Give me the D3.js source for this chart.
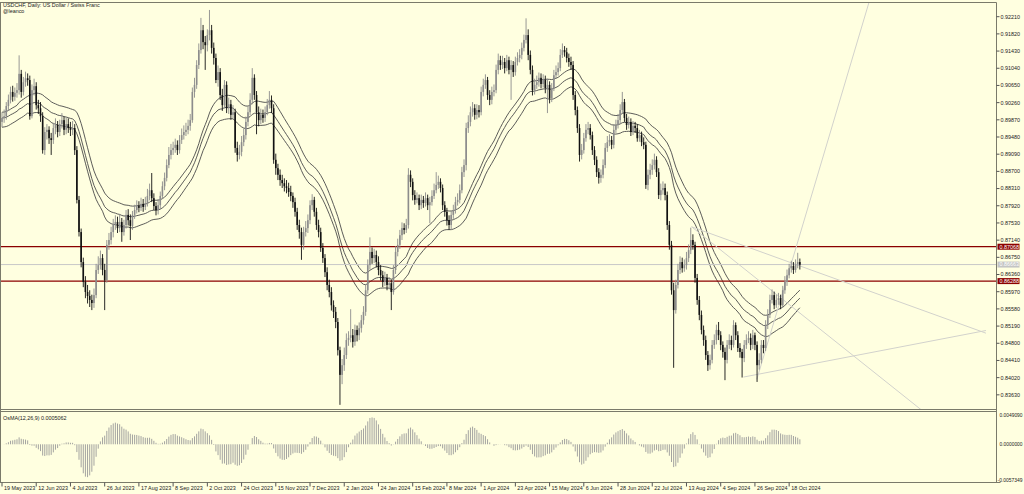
<!DOCTYPE html>
<html><head><meta charset="utf-8">
<script src="https://cdn.jsdelivr.net/npm/d3@7"></script>
<style>html,body{margin:0;padding:0;background:#ffffe0;}svg{display:block;}</style>
</head><body><svg id="c" width="1024" height="494"></svg>
<script>
const closes = [0.8999,0.9003,0.9026,0.9040,0.9058,0.9047,0.9056,0.9062,0.9099,0.9058,0.9080,0.9089,0.9085,0.9003,0.9062,0.9071,
0.9028,0.9021,0.9003,0.8926,0.8967,0.8972,0.8953,0.8949,0.8976,0.8983,0.8967,0.8985,0.8994,0.8972,0.8985,0.8976,
0.8972,0.8976,0.8926,0.8813,0.8740,0.8672,0.8627,0.8604,0.8595,0.8586,0.8579,0.8597,0.8654,0.8665,0.8681,0.8654,
0.8631,0.8711,0.8722,0.8740,0.8756,0.8763,0.8749,0.8763,0.8740,0.8756,0.8779,0.8767,0.8754,0.8779,0.8790,0.8799,
0.8795,0.8804,0.8797,0.8806,0.8822,0.8835,0.8817,0.8799,0.8790,0.8801,0.8822,0.8844,0.8863,0.8892,0.8915,0.8926,
0.8931,0.8938,0.8926,0.8949,0.8960,0.8967,0.8972,0.8981,0.8994,0.9058,0.9074,0.9119,0.9153,0.9198,0.9171,0.9164,
0.9187,0.9198,0.9158,0.9135,0.9085,0.9103,0.9051,0.9028,0.9074,0.9021,0.9030,0.9006,0.9012,0.8931,0.8915,0.8922,
0.8944,0.8960,0.8990,0.9012,0.9040,0.9090,0.9051,0.9012,0.8994,0.9006,0.8999,0.9012,0.9028,0.9040,0.9021,0.8904,
0.8885,0.8870,0.8858,0.8851,0.8844,0.8840,0.8831,0.8822,0.8808,0.8786,0.8756,0.8740,0.8711,0.8740,0.8749,0.8767,
0.8801,0.8813,0.8786,0.8756,0.8740,0.8704,0.8681,0.8649,0.8620,0.8604,0.8574,0.8559,0.8536,0.8472,0.8416,0.8438,
0.8461,0.8495,0.8500,0.8506,0.8491,0.8518,0.8506,0.8522,0.8540,0.8559,0.8608,0.8665,0.8695,0.8681,0.8688,0.8672,
0.8654,0.8642,0.8627,0.8636,0.8620,0.8624,0.8604,0.8654,0.8695,0.8711,0.8733,0.8749,0.8745,0.8756,0.8870,0.8854,
0.8824,0.8813,0.8817,0.8801,0.8813,0.8806,0.8817,0.8801,0.8808,0.8822,0.8835,0.8847,0.8854,0.8840,0.8801,0.8786,
0.8767,0.8756,0.8779,0.8790,0.8808,0.8813,0.8835,0.8876,0.8892,0.8976,0.8990,0.9012,0.9021,0.9006,0.9017,0.9012,
0.9058,0.9074,0.9085,0.9051,0.9040,0.9058,0.9062,0.9108,0.9130,0.9119,0.9126,0.9112,0.9130,0.9108,0.9119,0.9103,
0.9126,0.9135,0.9142,0.9158,0.9176,0.9187,0.9142,0.9108,0.9062,0.9074,0.9080,0.9090,0.9076,0.9085,0.9067,0.9074,
0.9044,0.9067,0.9096,0.9103,0.9112,0.9142,0.9153,0.9148,0.9135,0.9126,0.9119,0.9051,0.9017,0.8976,0.8915,0.8926,
0.8953,0.8972,0.8976,0.8960,0.8926,0.8904,0.8876,0.8863,0.8870,0.8892,0.8931,0.8944,0.8949,0.8938,0.8972,0.8983,
0.8994,0.9017,0.9035,0.8999,0.8983,0.8990,0.8967,0.8981,0.8976,0.8953,0.8960,0.8944,0.8938,0.8847,0.8870,0.8881,
0.8892,0.8904,0.8876,0.8824,0.8835,0.8840,0.8824,0.8756,0.8711,0.8608,0.8563,0.8620,0.8654,0.8672,0.8658,0.8665,
0.8681,0.8699,0.8722,0.8711,0.8636,0.8586,0.8552,0.8518,0.8495,0.8461,0.8438,0.8450,0.8484,0.8495,0.8518,0.8506,
0.8484,0.8468,0.8450,0.8484,0.8495,0.8484,0.8529,0.8506,0.8477,0.8468,0.8454,0.8484,0.8495,0.8500,0.8484,0.8506,
0.8484,0.8438,0.8450,0.8484,0.8477,0.8529,0.8552,0.8586,0.8597,0.8574,0.8586,0.8590,0.8574,0.8608,0.8627,0.8642,
0.8658,0.8663,0.8654,0.8667,0.8672,0.8666];
const highs = [0.9012,0.9018,0.9035,0.9052,0.9070,0.9072,0.9068,0.9078,0.9141,0.9108,0.9092,0.9104,0.9100,0.9095,0.9075,0.9088,
0.9080,0.9040,0.9035,0.9012,0.8978,0.8985,0.8980,0.8965,0.8988,0.8998,0.8992,0.8995,0.9010,0.9002,0.9000,0.8998,
0.8990,0.8992,0.8985,0.8935,0.8822,0.8748,0.8682,0.8640,0.8620,0.8608,0.8598,0.8612,0.8668,0.8685,0.8698,0.8690,
0.8668,0.8722,0.8738,0.8752,0.8770,0.8778,0.8775,0.8780,0.8772,0.8768,0.8790,0.8792,0.8780,0.8788,0.8802,0.8812,
0.8810,0.8818,0.8815,0.8820,0.8838,0.8850,0.8874,0.8828,0.8808,0.8815,0.8832,0.8855,0.8875,0.8905,0.8933,0.8940,
0.8945,0.8952,0.8948,0.8960,0.8975,0.8982,0.8988,0.8995,0.9008,0.9068,0.9090,0.9130,0.9168,0.9226,0.9210,0.9185,
0.9200,0.9244,0.9210,0.9170,0.9145,0.9118,0.9112,0.9065,0.9085,0.9082,0.9045,0.9040,0.9028,0.9020,0.8945,0.8938,
0.8958,0.8975,0.9002,0.9025,0.9055,0.9112,0.9098,0.9060,0.9025,0.9020,0.9018,0.9025,0.9042,0.9060,0.9050,0.9030,
0.8918,0.8895,0.8882,0.8870,0.8862,0.8858,0.8852,0.8845,0.8830,0.8818,0.8795,0.8768,0.8750,0.8752,0.8765,0.8780,
0.8812,0.8826,0.8820,0.8795,0.8768,0.8750,0.8715,0.8690,0.8660,0.8632,0.8615,0.8585,0.8570,0.8545,0.8480,0.8452,
0.8478,0.8510,0.8515,0.8565,0.8520,0.8530,0.8528,0.8535,0.8552,0.8572,0.8620,0.8678,0.8728,0.8705,0.8702,0.8698,
0.8685,0.8665,0.8652,0.8650,0.8645,0.8638,0.8632,0.8665,0.8708,0.8725,0.8745,0.8762,0.8760,0.8770,0.8885,0.8880,
0.8862,0.8835,0.8830,0.8825,0.8825,0.8822,0.8830,0.8825,0.8820,0.8835,0.8850,0.8876,0.8868,0.8862,0.8848,0.8810,
0.8795,0.8778,0.8788,0.8802,0.8820,0.8828,0.8848,0.8888,0.8905,0.8988,0.9005,0.9025,0.9035,0.9030,0.9030,0.9028,
0.9070,0.9088,0.9098,0.9092,0.9062,0.9070,0.9075,0.9120,0.9145,0.9140,0.9140,0.9135,0.9142,0.9138,0.9130,0.9128,
0.9138,0.9148,0.9155,0.9170,0.9188,0.9225,0.9200,0.9152,0.9118,0.9088,0.9095,0.9102,0.9100,0.9098,0.9095,0.9088,
0.9082,0.9078,0.9108,0.9118,0.9125,0.9155,0.9168,0.9162,0.9158,0.9145,0.9138,0.9128,0.9060,0.9025,0.8985,0.8940,
0.8965,0.8985,0.8990,0.8985,0.8968,0.8935,0.8912,0.8885,0.8882,0.8905,0.8942,0.8958,0.8962,0.8958,0.8985,0.8995,
0.9008,0.9030,0.9058,0.9042,0.9008,0.9002,0.8998,0.8992,0.8990,0.8985,0.8972,0.8968,0.8955,0.8945,0.8882,0.8895,
0.8905,0.8918,0.8912,0.8885,0.8850,0.8855,0.8850,0.8832,0.8765,0.8720,0.8625,0.8632,0.8668,0.8685,0.8682,0.8678,
0.8695,0.8712,0.8750,0.8735,0.8718,0.8645,0.8595,0.8562,0.8528,0.8505,0.8470,0.8462,0.8495,0.8508,0.8530,0.8536,
0.8515,0.8492,0.8478,0.8495,0.8508,0.8505,0.8540,0.8535,0.8515,0.8488,0.8475,0.8495,0.8508,0.8515,0.8510,0.8518,
0.8512,0.8492,0.8465,0.8495,0.8495,0.8540,0.8565,0.8598,0.8610,0.8605,0.8598,0.8602,0.8598,0.8618,0.8640,0.8655,
0.8668,0.8675,0.8672,0.8678,0.8693,0.8680];
const lows = [0.8978,0.8988,0.8995,0.9015,0.9032,0.9036,0.9038,0.9045,0.9052,0.9045,0.9050,0.9070,0.9072,0.8995,0.8998,0.9050,
0.9018,0.9008,0.8990,0.8918,0.8915,0.8950,0.8940,0.8915,0.8940,0.8962,0.8955,0.8958,0.8975,0.8960,0.8962,0.8965,
0.8958,0.8960,0.8915,0.8805,0.8730,0.8660,0.8615,0.8590,0.8578,0.8570,0.8563,0.8568,0.8590,0.8645,0.8655,0.8642,
0.8563,0.8625,0.8700,0.8712,0.8728,0.8745,0.8738,0.8740,0.8718,0.8732,0.8748,0.8755,0.8722,0.8745,0.8770,0.8782,
0.8785,0.8788,0.8786,0.8790,0.8798,0.8812,0.8808,0.8790,0.8778,0.8780,0.8792,0.8815,0.8835,0.8855,0.8885,0.8905,
0.8915,0.8920,0.8915,0.8918,0.8940,0.8950,0.8958,0.8962,0.8970,0.8988,0.9045,0.9065,0.9110,0.9145,0.9155,0.9108,
0.9150,0.9175,0.9145,0.9120,0.9078,0.9070,0.9040,0.9015,0.9020,0.9010,0.9008,0.8995,0.8998,0.8920,0.8900,0.8905,
0.8912,0.8935,0.8950,0.8980,0.9005,0.9030,0.9040,0.8962,0.8980,0.8985,0.8988,0.8990,0.9005,0.9020,0.9010,0.8895,
0.8870,0.8858,0.8845,0.8840,0.8832,0.8828,0.8820,0.8810,0.8795,0.8775,0.8745,0.8725,0.8677,0.8700,0.8730,0.8738,
0.8758,0.8790,0.8775,0.8745,0.8728,0.8695,0.8670,0.8638,0.8608,0.8592,0.8562,0.8545,0.8522,0.8460,0.8348,0.8395,
0.8425,0.8452,0.8482,0.8490,0.8478,0.8482,0.8492,0.8495,0.8512,0.8530,0.8550,0.8600,0.8655,0.8668,0.8670,0.8660,
0.8642,0.8630,0.8615,0.8618,0.8608,0.8610,0.8563,0.8598,0.8645,0.8685,0.8702,0.8722,0.8735,0.8738,0.8748,0.8842,
0.8812,0.8802,0.8805,0.8790,0.8792,0.8795,0.8798,0.8790,0.8760,0.8800,0.8815,0.8828,0.8838,0.8830,0.8790,0.8775,
0.8755,0.8745,0.8745,0.8770,0.8782,0.8800,0.8805,0.8828,0.8865,0.8880,0.8965,0.8980,0.9002,0.8995,0.8996,0.9000,
0.9005,0.9048,0.9065,0.9040,0.9028,0.9030,0.9048,0.9055,0.9098,0.9108,0.9110,0.9100,0.9105,0.9098,0.9040,0.9092,
0.9095,0.9118,0.9125,0.9132,0.9150,0.9168,0.9130,0.9098,0.9050,0.9052,0.9065,0.9070,0.9066,0.9068,0.9055,0.9010,
0.9032,0.9035,0.9060,0.9088,0.9095,0.9105,0.9135,0.9138,0.9125,0.9115,0.9108,0.9040,0.9005,0.8965,0.8900,0.8905,
0.8918,0.8945,0.8962,0.8950,0.8915,0.8892,0.8865,0.8850,0.8852,0.8862,0.8885,0.8922,0.8935,0.8928,0.8930,0.8965,
0.8975,0.8985,0.9008,0.8990,0.8972,0.8975,0.8958,0.8960,0.8965,0.8945,0.8945,0.8935,0.8928,0.8838,0.8835,0.8860,
0.8870,0.8882,0.8865,0.8815,0.8812,0.8825,0.8812,0.8745,0.8700,0.8598,0.8432,0.8555,0.8612,0.8645,0.8648,0.8650,
0.8655,0.8672,0.8690,0.8700,0.8625,0.8575,0.8540,0.8508,0.8482,0.8450,0.8425,0.8428,0.8442,0.8475,0.8485,0.8495,
0.8472,0.8455,0.8404,0.8442,0.8475,0.8472,0.8478,0.8495,0.8468,0.8455,0.8410,0.8445,0.8475,0.8488,0.8472,0.8475,
0.8472,0.8400,0.8428,0.8442,0.8465,0.8470,0.8520,0.8545,0.8578,0.8565,0.8568,0.8575,0.8565,0.8568,0.8600,0.8618,
0.8635,0.8648,0.8645,0.8648,0.8658,0.8655];
const firstOpen = 0.8990;
const dateLabels = ["19 May 2023","12 Jun 2023","4 Jul 2023","26 Jul 2023","17 Aug 2023","8 Sep 2023","2 Oct 2023","24 Oct 2023","15 Nov 2023","7 Dec 2023","2 Jan 2024","24 Jan 2024","15 Feb 2024","8 Mar 2024","1 Apr 2024","23 Apr 2024","15 May 2024","6 Jun 2024","28 Jun 2024","22 Jul 2024","13 Aug 2024","4 Sep 2024","26 Sep 2024","18 Oct 2024"];
const dateLabelBars = [0,16,32,48,64,80,96,112,128,144,160,176,192,208,224,240,256,272,288,304,320,336,352,368];
const priceTicks = [0.92210,0.91820,0.91430,0.91040,0.90650,0.90260,0.89870,0.89480,0.89090,0.88700,0.88310,0.87920,0.87530,0.87140,0.86750,0.86360,0.85970,0.85580,0.85190,0.84800,0.84410,0.84020,0.83630];
const levels = [0.87068, 0.86288];
const bidPrice = 0.86663;
const osmaTicks = [0.0049090, 0.0000000, -0.0057349];
const osmaLabel = "OsMA(12,26,9) 0.0005062";
const trendLines = [
  {b1:322.4,p1:0.8752,b2:372.4,p2:0.86643},
  {b1:322.4,p1:0.8752,b2:372.4,p2:0.85586},
  {b1:346.6,p1:0.8411,b2:396.6,p2:0.84576},
  {b1:352.9,p1:0.84061,b2:372.9,p2:0.87323}
];
const maPeriod = 34;

const svg = d3.select('#c');
const N = closes.length;
const opens = [firstOpen].concat(closes.slice(0, -1));
const AX = 996.5;
const MT = 2.5, MB = 409.5;
const ST = 411.5, SB = 482.5;
const x = d3.scaleLinear().domain([0, N - 1]).range([2, 2 + 2.139 * (N - 1)]);
const y = d3.scaleLinear().domain([0.8359, 0.92439]).range([400, 10]);
const yo = d3.scaleLinear().domain([-0.0057349, 0.0049090]).range([482, 412]);
const font = "'Liberation Sans', Arial, sans-serif";
const FS = 5.4;

svg.append('rect').attr('width', 1024).attr('height', 494).attr('fill', '#ffffe0');
const defs = svg.append('defs');
defs.append('clipPath').attr('id', 'cm').append('rect').attr('x', 0).attr('y', MT).attr('width', AX).attr('height', MB - MT);
defs.append('clipPath').attr('id', 'cs').append('rect').attr('x', 0).attr('y', ST).attr('width', AX).attr('height', SB - ST);
const gm = svg.append('g').attr('clip-path', 'url(#cm)');
const gs = svg.append('g').attr('clip-path', 'url(#cs)');

function sma(arr, n) {
  return arr.map((v, i) => { const s = Math.max(0, i - n + 1); return d3.mean(arr.slice(s, i + 1)); });
}
function ema(arr, n) {
  const k = 2 / (n + 1); let prev = arr[0];
  return arr.map((v, i) => (prev = i === 0 ? v : v * k + prev * (1 - k)));
}

// moving averages of high / close / low
const maLine = d3.line().x((d, i) => x(i)).y(d => y(d));
[ema(highs, maPeriod), ema(closes, maPeriod), ema(lows, maPeriod)].forEach(ma => {
  gm.append('path').attr('d', maLine(ma)).attr('fill', 'none').attr('stroke', '#4a4a4a').attr('stroke-width', 0.9);
});

gm.append('line').attr('x1', 0).attr('x2', AX).attr('y1', y(bidPrice)).attr('y2', y(bidPrice))
  .attr('stroke', '#c8c8c8').attr('stroke-width', 1);
levels.forEach(l => {
  gm.append('line').attr('x1', 0).attr('x2', AX).attr('y1', y(l)).attr('y2', y(l))
    .attr('stroke', '#8b0000').attr('stroke-width', 1.3);
});
trendLines.forEach(t => {
  const slope = (t.p2 - t.p1) / (t.b2 - t.b1); const bEnd = 460;
  gm.append('line').attr('x1', x(t.b1)).attr('y1', y(t.p1))
    .attr('x2', x(bEnd)).attr('y2', y(t.p1 + slope * (bEnd - t.b1)))
    .attr('stroke', '#d2d2cc').attr('stroke-width', 1);
});

const cg = gm.append('g');
d3.range(N).forEach(i => {
  const o = opens[i], c = closes[i];
  const col = c >= o ? '#8c8c8c' : '#111';
  cg.append('line').attr('x1', x(i)).attr('x2', x(i)).attr('y1', y(highs[i])).attr('y2', y(lows[i]))
    .attr('stroke', col).attr('stroke-width', 0.9);
  const top = y(Math.max(o, c)), bot = y(Math.min(o, c));
  cg.append('rect').attr('x', x(i) - 0.8).attr('width', 1.6).attr('y', top).attr('height', Math.max(0.8, bot - top))
    .attr('fill', col);
});

// OsMA(12,26,9)
const e12 = ema(closes, 12), e26 = ema(closes, 26);
const macd = e12.map((v, i) => v - e26[i]);
const sig = sma(macd, 9);
const osma = macd.map((v, i) => v - sig[i]);
gs.selectAll('line.h').data(osma).enter().append('line')
  .attr('x1', (d, i) => x(i)).attr('x2', (d, i) => x(i))
  .attr('y1', yo(0)).attr('y2', d => yo(d))
  .attr('stroke', '#9a9a9a').attr('stroke-width', 0.9);

const frame = svg.append('g').attr('fill', 'none').attr('stroke', '#7a7a6a').attr('stroke-width', 1);
[[0,AX,MT,MT],[0,AX,MB,MB],[0,AX,ST,ST],[0,AX+4,SB,SB],[AX,AX,MT,SB],[0.5,0.5,MT,SB]].forEach(a =>
  frame.append('line').attr('x1', a[0]).attr('x2', a[1]).attr('y1', a[2]).attr('y2', a[3]));

const pa = svg.append('g').attr('font-family', font).attr('font-size', FS).attr('fill', '#222');
priceTicks.forEach(p => {
  const yy = y(p) - 3.4;
  pa.append('line').attr('x1', AX).attr('x2', AX + 3).attr('y1', yy).attr('y2', yy).attr('stroke', '#555');
  pa.append('text').attr('x', AX + 4).attr('y', yy).attr('dy', '0.35em').text(p.toFixed(5));
});
levels.forEach(l => {
  pa.append('rect').attr('x', AX + 1).attr('y', y(l) - 3).attr('width', 22).attr('height', 6).attr('fill', '#8b0000');
  pa.append('text').attr('x', AX + 3).attr('y', y(l)).attr('dy', '0.35em').attr('fill', '#fff').text(l.toFixed(5));
});
pa.append('rect').attr('x', AX + 1).attr('y', y(bidPrice) - 3).attr('width', 22).attr('height', 6).attr('fill', '#c4c4c4');
pa.append('text').attr('x', AX + 3).attr('y', y(bidPrice)).attr('dy', '0.35em').attr('fill', '#fff').text(bidPrice.toFixed(5));

const oa = svg.append('g').attr('font-family', font).attr('font-size', 5).attr('fill', '#222');
const oy = [415, 444.3, 480];
osmaTicks.forEach((v, k) => {
  oa.append('text').attr('x', v < 0 ? AX + 1 : AX + 3).attr('y', oy[k]).attr('dy', '0.35em').text(v.toFixed(7))
    .attr('textLength', v < 0 ? 25 : 23).attr('lengthAdjust', 'spacingAndGlyphs');
});
svg.append('text').attr('font-family', font).attr('font-size', FS).attr('fill', '#222')
  .attr('x', 3).attr('y', 418).attr('dy', '0.35em').text(osmaLabel);

const da = svg.append('g').attr('font-family', font).attr('font-size', FS).attr('fill', '#222');
dateLabelBars.forEach((b, k) => {
  da.append('line').attr('x1', x(b)).attr('x2', x(b)).attr('y1', SB).attr('y2', SB + 4).attr('stroke', '#555');
  da.append('text').attr('x', x(b) + 2).attr('y', 488).attr('dy', '0.35em').text(dateLabels[k]);
});

const tt = svg.append('g').attr('font-family', font).attr('font-size', FS).attr('fill', '#222');
tt.append('text').attr('x', 3).attr('y', 5.5).attr('dy', '0.35em').text('USDCHF, Daily:  US Dollar / Swiss Franc');
tt.append('text').attr('x', 3).attr('y', 11.5).attr('dy', '0.35em').text('@leanco');
</script></body></html>
